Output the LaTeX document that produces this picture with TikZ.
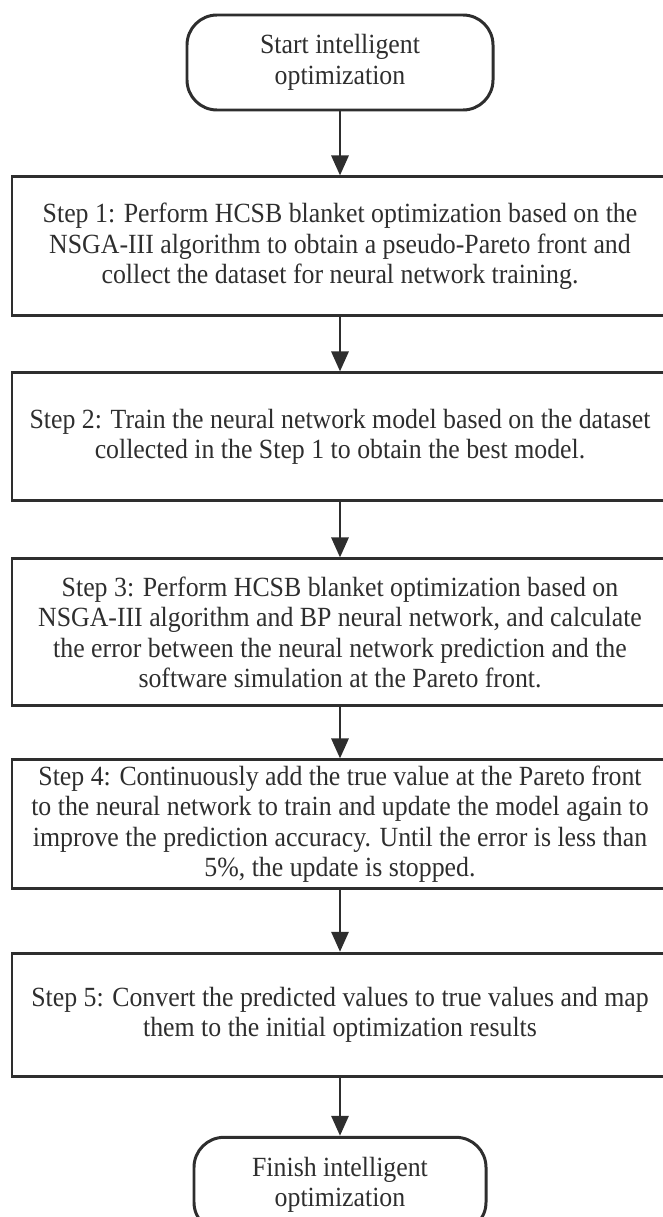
\documentclass[tikz,border=0pt]{standalone}
\usepackage{fontspec}
\setmainfont[FakeStretch=0.93]{Liberation Serif}
\usepackage{tikz}
\usetikzlibrary{arrows.meta}
\usetikzlibrary{positioning}

\begin{document}
\begin{tikzpicture}[-{Triangle[width=0.34cm,length=0.4cm]},auto,node distance=1.1cm, line width=1.7pt, color=black!82]
  \tikzstyle{term}=[draw, rounded corners=0.6cm, minimum width=6.12cm, minimum height=1.9cm, align=center, font=\fontsize{15.8}{17.3}\selectfont]
  \tikzstyle{stepbox}=[draw, minimum width=13.12cm, align=center, font=\fontsize{15.8}{17.3}\selectfont]
  \useasboundingbox (0,0) rectangle (13.24,-24.34);

  \node[term] (start) at (6.8,-1.25) {Start intelligent\\optimization};
  \node[stepbox, minimum height=2.78cm] (s1) [below=1.28cm of start]
    {Step 1: Perform HCSB blanket optimization based on the\\
     NSGA-III algorithm to obtain a pseudo-Pareto front and\\
     collect the dataset for neural network training.};
  \node[stepbox, minimum height=2.56cm] (s2) [below=1.08cm of s1]
    {Step 2: Train the neural network model based on the dataset\\
     collected in the Step 1 to obtain the best model.};
  \node[stepbox, minimum height=2.94cm] (s3) [below=1.1cm of s2]
    {Step 3: Perform HCSB blanket optimization based on\\
     NSGA-III algorithm and BP neural network, and calculate\\
     the error between the neural network prediction and the\\
     software simulation at the Pareto front.};
  \node[stepbox, minimum height=2.54cm] (s4) [below=1.02cm of s3]
    {Step 4: Continuously add the true value at the Pareto front\\
     to the neural network to train and update the model again to\\
     improve the prediction accuracy. Until the error is less than\\
     5\%, the update is stopped.};
  \node[stepbox, minimum height=2.46cm] (s5) [below=1.24cm of s4]
    {Step 5: Convert the predicted values to true values and map\\
     them to the initial optimization results};
  \node[term, minimum width=5.84cm] (finish) [below=1.16cm of s5]
    {Finish intelligent\\optimization};

  \path
    (start) edge (s1)
    (s1) edge (s2)
    (s2) edge (s3)
    (s3) edge (s4)
    (s4) edge (s5)
    (s5) edge (finish);
\end{tikzpicture}
\end{document}
